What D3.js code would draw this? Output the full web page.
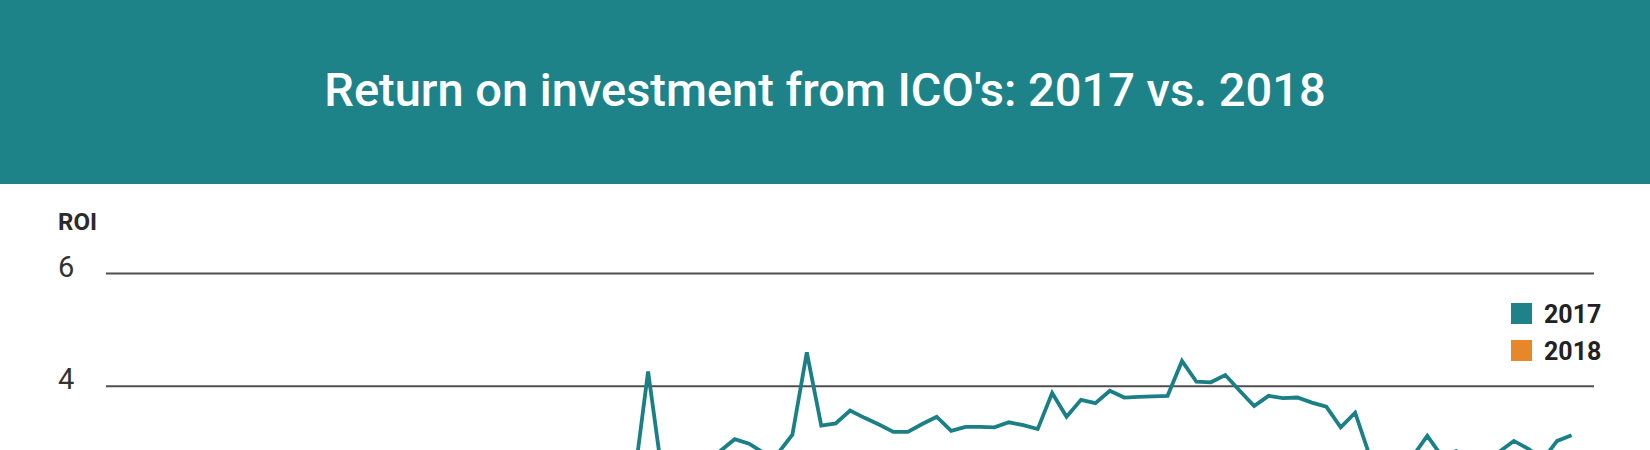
<!DOCTYPE html>
<html>
<head>
<meta charset="utf-8">
<script src="https://cdn.jsdelivr.net/npm/d3@7"></script>
<style>
html, body { margin: 0; padding: 0; overflow: hidden; background: #ffffff; }
svg { display: block; }
</style>
</head>
<body>
<svg id="chart" width="1650" height="450"></svg>
<script>
// ---------- data ----------
const titleText = "Return on investment from ICO's: 2017 vs. 2018";
const yAxisTitle = "ROI";
const seriesNames = ["2017", "2018"];
const seriesColors = ["#1b7f86", "#e8862a"];
const yTicks = [4, 6];

// 2017 ROI per period (index along the time axis)
const roi2017 = [
  1.10, 1.25, 1.18, 1.40, 1.32, 1.55, 1.48, 1.62, 1.70, 1.58,
  1.75, 1.82, 1.90, 1.78, 1.95, 2.05, 1.98, 2.10, 2.20, 2.12,
  2.30, 2.25, 2.38, 2.45, 2.32, 2.50, 2.41, 2.55, 2.48, 2.60,
  2.52, 2.44, 2.58, 2.50, 2.62, 2.40, 2.26, 4.25, 2.38, 2.45,
  2.55, 2.62, 2.84, 3.05, 2.97, 2.81, 2.80, 3.13, 4.59, 3.29,
  3.33, 3.56, 3.43, 3.31, 3.18, 3.18, 3.32, 3.45, 3.20, 3.27,
  3.27, 3.26, 3.35, 3.30, 3.23, 3.87, 3.45, 3.75, 3.69, 3.91,
  3.79, 3.80, 3.81, 3.82, 4.44, 4.07, 4.06, 4.19, 3.91, 3.64,
  3.82, 3.78, 3.79, 3.70, 3.63, 3.26, 3.52, 2.76, 2.55, 2.62,
  2.75, 3.11, 2.75, 2.84, 2.70, 2.68, 2.83, 3.02, 2.88, 2.69,
  3.02, 3.12
];

// 2018 ROI per period (lies below the visible area)
const roi2018 = [
  1.85, 1.92, 1.78, 1.70, 1.74, 1.60, 1.52, 1.58, 1.45, 1.38,
  1.42, 1.30, 1.25, 1.18, 1.22, 1.10, 1.05, 1.12, 0.98, 0.92,
  0.95, 0.88, 0.82, 0.86, 0.78, 0.74, 0.70, 0.76, 0.68, 0.64,
  0.60, 0.66, 0.58, 0.55, 0.52, 0.57, 0.50, 0.48, 0.45, 0.50,
  0.44, 0.42, 0.40, 0.43, 0.38, 0.36, 0.39, 0.35, 0.33, 0.34
];

// ---------- drawing ----------
const W = 1650, H = 450, headerH = 184;
const svg = d3.select("#chart");

svg.append("rect")
  .attr("x", 0).attr("y", 0).attr("width", W).attr("height", headerH)
  .attr("fill", "#1e8389");

svg.append("text")
  .attr("x", W / 2).attr("y", 105.7)
  .attr("text-anchor", "middle")
  .attr("font-family", "Roboto, 'Noto Sans', sans-serif")
  .attr("font-weight", 500)
  .attr("font-size", 47)
  .attr("fill", "#ffffff")
  .text(titleText);

const gridLeft = 106, gridRight = 1594;
const y = d3.scaleLinear().domain([0, 6]).range([611.1, 273]);
const x = d3.scaleLinear().domain([0, roi2017.length - 1]).range([114.2, 1571.6]);

// gridlines + tick labels
const yAxis = d3.axisLeft(y)
  .tickValues(yTicks)
  .tickSize(-(gridRight - gridLeft))
  .tickFormat(d3.format("d"));

const gAxis = svg.append("g")
  .attr("transform", `translate(${gridLeft},0)`)
  .call(yAxis);
gAxis.select(".domain").remove();
gAxis.selectAll(".tick line")
  .attr("stroke", "#4f4f4f")
  .attr("stroke-width", 2);
gAxis.selectAll(".tick text")
  .attr("x", 58 - gridLeft)
  .attr("y", 3)
  .attr("dy", 0)
  .attr("text-anchor", "start")
  .attr("font-family", "Roboto, 'Noto Sans', sans-serif")
  .attr("font-size", 29)
  .attr("fill", "#333333");

svg.append("text")
  .attr("x", 58).attr("y", 230)
  .attr("font-family", "Roboto, 'Noto Sans', sans-serif")
  .attr("font-weight", 700)
  .attr("font-size", 24)
  .attr("fill", "#2b2b2b")
  .text(yAxisTitle);

// clip for plot area
svg.append("defs").append("clipPath").attr("id", "plotClip")
  .append("rect").attr("x", 0).attr("y", headerH).attr("width", W).attr("height", H - headerH);

const line = d3.line()
  .x((d, i) => x(i))
  .y(d => y(d));

const plot = svg.append("g").attr("clip-path", "url(#plotClip)");
[[roi2018, 1], [roi2017, 0]].forEach(([series, idx]) => {
  plot.append("path")
    .datum(series)
    .attr("fill", "none")
    .attr("stroke", seriesColors[idx])
    .attr("stroke-width", 3.8)
    .attr("stroke-linejoin", "miter")
    .attr("d", line);
});

// legend
const legend = svg.append("g");
seriesNames.forEach((name, i) => {
  const top = 303 + i * 37;
  legend.append("rect")
    .attr("x", 1511).attr("y", top)
    .attr("width", 21).attr("height", 21)
    .attr("fill", i === 0 ? "#1e8389" : "#e8862a");
  legend.append("text")
    .attr("x", 1544).attr("y", top + 19.7)
    .attr("font-family", "Roboto, 'Noto Sans', sans-serif")
    .attr("font-weight", 700)
    .attr("font-size", 25)
    .attr("fill", "#222222")
    .text(name);
});
</script>
</body>
</html>
